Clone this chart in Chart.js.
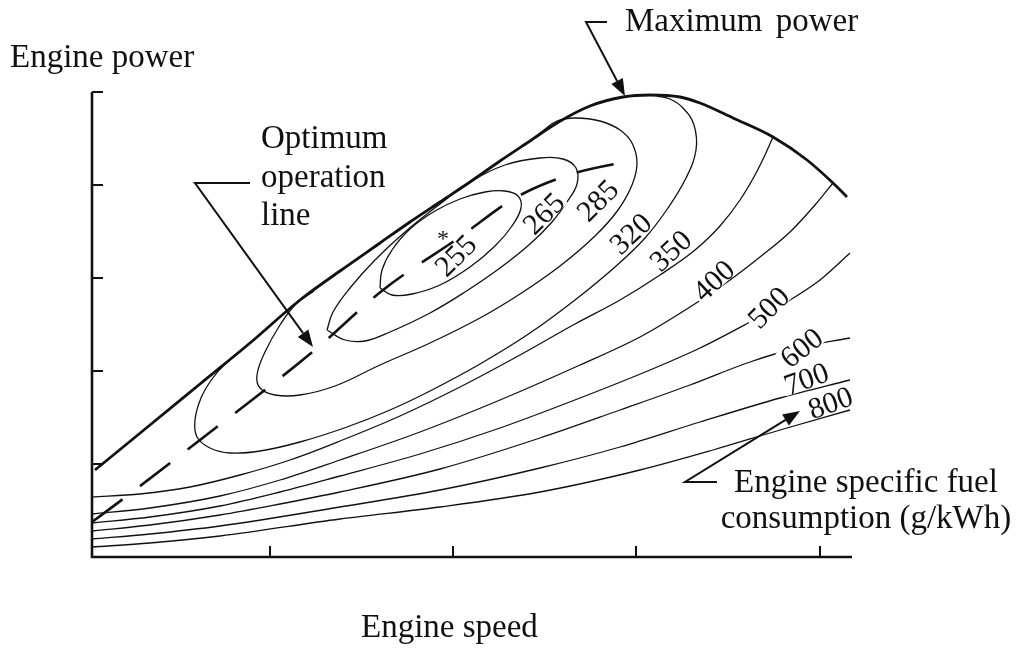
<!DOCTYPE html>
<html><head><meta charset="utf-8">
<script src="https://cdn.jsdelivr.net/npm/chart.js@4"></script>
<style>
html,body{margin:0;padding:0;background:#fff;}
#wrap{position:relative;width:1024px;height:665px;overflow:hidden;background:#fff;}
canvas{position:absolute;left:0;top:0;}
.t{position:absolute;font-family:'Liberation Serif','Times New Roman',serif;font-size:33px;line-height:33px;color:#111;white-space:nowrap;}
.lbl{position:absolute;left:0;top:0;font-family:'Liberation Serif','Times New Roman',serif;font-size:30px;line-height:21px;color:#111;background:#fff;padding:0 2px;white-space:nowrap;}
</style></head><body>
<div id="wrap"><canvas id="c" width="1024" height="665"></canvas>
<div class="t" style="left:10px;top:40px;">Engine power</div>
<div class="t" style="left:361px;top:610px;">Engine speed</div>
<div class="t" style="left:625px;top:4px;word-spacing:5px;">Maximum power</div>
<div class="t" style="left:261px;top:118px;line-height:38.5px;">Optimum<br>operation<br>line</div>
<div class="t" style="left:701px;top:463px;width:330px;text-align:center;line-height:36px;">Engine specific fuel<br>consumption (g/kWh)</div>
</div>
<script>
// axis ticks (relative units, no numeric labels in the original)
const xTicks = [178, 361, 544, 728];
const yTicks = [93, 186, 279, 372, 465];

// boundary curves
const maxPower = [[3,87],[58,132],[108,173],[158,214],[208,257],[248,286],[288,314],[318,335],[348,355],[378,375],[408,396],[438,416],[465,434],[498,451],[531,460],[558,462],[588,460],[608,454],[641,439],[681,420],[715,397],[741,374],[755,360]];
const optimumLine = [[0,35],[31,58],[108,117],[224,208],[291,267],[368,320],[423,359],[480,383],[543,397]];

// specific fuel consumption contours (g/kWh)
const sfc255 = [[288,269],[300,262],[320,263],[348,272],[378,290],[403,311],[420,331],[429,349],[426,361],[413,366],[393,365],[368,358],[343,346],[318,328],[300,307],[290,287],[288,269]];
const sfc265 = [[235,227],[253,217],[273,216],[298,225],[338,244],[373,265],[408,289],[438,313],[460,335],[475,355],[485,373],[484,389],[471,398],[448,399],[413,392],[378,375],[348,353],[313,325],[283,297],[258,269],[241,245],[235,227]];
const sfc285 = [[222,266],[204,253],[188,232],[173,205],[165,182],[168,169],[183,162],[208,162],[243,171],[288,192],[338,214],[388,239],[428,263],[468,291],[503,321],[526,347],[540,372],[545,394],[540,414],[528,427],[508,436],[483,439],[465,436],[452,427],[440,418]];
const sfc320 = [[150,207],[133,193],[120,178],[109,159],[103,137],[105,120],[118,109],[138,104],[168,106],[208,115],[255,130],[298,147],[338,166],[388,193],[438,224],[483,257],[523,290],[553,319],[576,349],[594,379],[604,407],[602,432],[591,449],[578,458],[565,461]];
const sfc350 = [[0,60],[48,63],[98,70],[148,82],[198,97],[248,116],[308,141],[368,170],[428,202],[483,233],[528,257],[568,282],[603,307],[628,331],[648,357],[663,382],[673,402],[681,420]];
const sfc400 = [[0,43],[58,49],[128,61],[188,77],[248,97],[328,125],[408,157],[488,192],[548,220],[598,250],[638,277],[668,300],[698,325],[723,352],[741,374]];
const sfc500 = [[0,34],[58,40],[128,51],[188,65],[248,81],[328,103],[408,129],[488,159],[558,187],[608,209],[658,235],[698,257],[728,277],[758,304]];
const sfc600 = [[0,26],[58,32],[128,42],[188,53],[248,65],[348,88],[448,119],[528,147],[598,172],[658,195],[708,210],[758,219]];
const sfc700 = [[0,18],[58,23],[128,31],[248,50],[348,67],[448,89],[528,110],[608,135],[688,159],[758,177]];
const sfc800 = [[0,10],[58,14],[128,21],[248,38],[348,50],[448,65],[548,87],[621,107],[688,127],[758,147]];

// contour labels (text, position in data units)
const labelText = ['255','265','285','320','350','400','500','600','700','800'];
const labelX = [363, 451, 505, 538, 578, 621, 676, 709, 714, 738];
const labelY = [302, 344, 357, 324, 307, 277, 250, 210, 179, 155];
const optimumPoint = [351, 319];

// annotation arrows (data units), arrowhead at last point
const arrowMaxPower = [[515,535],[494,535],[533,461]];
const arrowOptimum = [[158,374],[103,374],[221,210]];
const arrowFuel = [[625,75],[593,75],[708,146]];

// ---- styles ----
const labelAngle = [-45,-45,-45,-43,-43,-43,-45,-38,-20,-20];
const labelMask = [false,true,true,true,true,true,true,true,true,true];

const toPts = a => a.map(p => ({x: p[0], y: p[1]}));
const closedContour = (name, arr) => ({label: name, data: toPts(arr), showLine: true, borderColor: '#111', borderWidth: 1.3, pointRadius: 0, tension: 0.4, fill: false, clip: false});
const openContour = (name, arr) => ({label: name, data: toPts(arr), showLine: true, borderColor: '#111', borderWidth: 1.3, pointRadius: 0, cubicInterpolationMode: 'monotone', fill: false, clip: false});

const axesPlugin = {
  id: 'axesAndArrows',
  beforeDatasetsDraw(chart) {
    const ctx = chart.ctx, xs = chart.scales.x, ys = chart.scales.y;
    const x0 = xs.getPixelForValue(0), y0 = ys.getPixelForValue(0);
    ctx.save();
    ctx.strokeStyle = '#111';
    ctx.lineWidth = 2.6;
    ctx.lineCap = 'butt';
    ctx.beginPath();
    ctx.moveTo(x0, ys.getPixelForValue(465));
    ctx.lineTo(x0, y0);
    ctx.lineTo(xs.getPixelForValue(760), y0);
    ctx.stroke();
    ctx.lineWidth = 2;
    yTicks.forEach(v => { const py = ys.getPixelForValue(v); ctx.beginPath(); ctx.moveTo(x0, py); ctx.lineTo(x0 + 11, py); ctx.stroke(); });
    xTicks.forEach(v => { const px = xs.getPixelForValue(v); ctx.beginPath(); ctx.moveTo(px, y0); ctx.lineTo(px, y0 - 11); ctx.stroke(); });
    ctx.restore();
  },
  afterDatasetsDraw(chart) {
    const ctx = chart.ctx, xs = chart.scales.x, ys = chart.scales.y;
    const drawArrow = (arr) => {
      const pts = arr.map(p => [xs.getPixelForValue(p[0]), ys.getPixelForValue(p[1])]);
      ctx.save();
      ctx.strokeStyle = '#111'; ctx.fillStyle = '#111'; ctx.lineWidth = 2;
      const n = pts.length;
      const [ax, ay] = pts[n - 2], [bx, by] = pts[n - 1];
      const ang = Math.atan2(by - ay, bx - ax);
      const hl = 17, hw = 6.5;
      const baseX = bx - hl * Math.cos(ang), baseY = by - hl * Math.sin(ang);
      ctx.beginPath();
      ctx.moveTo(pts[0][0], pts[0][1]);
      for (let i = 1; i < n - 1; i++) ctx.lineTo(pts[i][0], pts[i][1]);
      ctx.lineTo(baseX, baseY);
      ctx.stroke();
      ctx.beginPath();
      ctx.moveTo(bx, by);
      ctx.lineTo(baseX + hw * Math.sin(ang), baseY - hw * Math.cos(ang));
      ctx.lineTo(baseX - hw * Math.sin(ang), baseY + hw * Math.cos(ang));
      ctx.closePath();
      ctx.fill();
      ctx.restore();
    };
    [arrowMaxPower, arrowOptimum, arrowFuel].forEach(drawArrow);
  }
};

const chart = new Chart(document.getElementById('c'), {
  type: 'scatter',
  data: {
    datasets: [
      closedContour('255', sfc255), closedContour('265', sfc265), closedContour('285', sfc285), closedContour('320', sfc320),
      openContour('350', sfc350), openContour('400', sfc400), openContour('500', sfc500), openContour('600', sfc600),
      openContour('700', sfc700), openContour('800', sfc800),
      {label: 'Maximum power', data: toPts(maxPower), showLine: true, borderColor: '#111', borderWidth: 2.8, pointRadius: 0, cubicInterpolationMode: 'monotone', clip: false},
      {label: 'Optimum operation line', data: toPts(optimumLine), showLine: true, borderColor: '#111', borderWidth: 2.6, borderDash: [38, 22], pointRadius: 0, cubicInterpolationMode: 'monotone', clip: false}
    ]
  },
  options: {
    responsive: false,
    animation: false,
    devicePixelRatio: 1,
    layout: {padding: {left: 92, right: 167, top: 92, bottom: 108}},
    scales: {
      x: {type: 'linear', min: 0, max: 765, display: false},
      y: {type: 'linear', min: 0, max: 465, display: false}
    },
    elements: {line: {capBezierPoints: false}},
    plugins: {legend: {display: false}, tooltip: {enabled: false}}
  },
  plugins: [axesPlugin]
});

// contour value labels placed through the chart scales
const wrap = document.getElementById('wrap');
const xs = chart.scales.x, ys = chart.scales.y;
labelText.forEach((txt, i) => {
  const d = document.createElement('div');
  d.className = 'lbl';
  d.textContent = txt;
  if (!labelMask[i]) d.style.background = 'transparent';
  const px = xs.getPixelForValue(labelX[i]), py = ys.getPixelForValue(labelY[i]);
  d.style.transform = `translate(${px}px, ${py}px) translate(-50%, -50%) rotate(${labelAngle[i]}deg)`;
  wrap.appendChild(d);
});
const star = document.createElement('div');
star.className = 'lbl';
star.style.background = 'transparent';
star.style.fontSize = '24px';
star.textContent = '*';
star.style.transform = `translate(${xs.getPixelForValue(optimumPoint[0])}px, ${ys.getPixelForValue(optimumPoint[1])}px) translate(-50%, -50%)`;
wrap.appendChild(star);
</script>
</body></html>
